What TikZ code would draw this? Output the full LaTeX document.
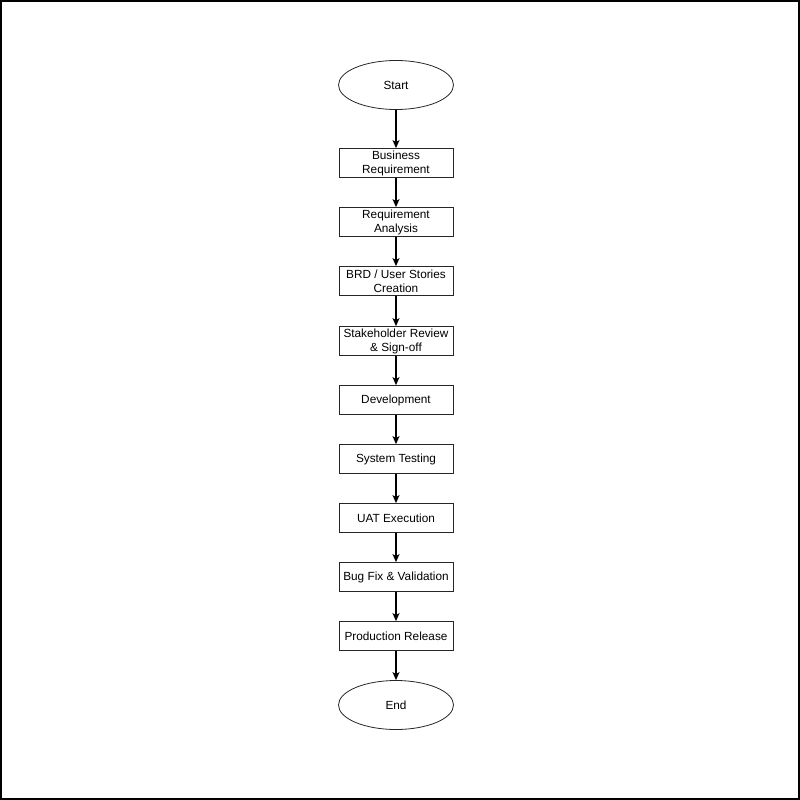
\documentclass[tikz,border=0pt]{standalone}
\usepackage{fontspec}
\setmainfont{Liberation Sans}
\usetikzlibrary{arrows.meta,shapes.geometric,positioning}

\begin{document}
\begin{tikzpicture}[x = 1pt, y = -1pt, every node/.style={font=\fontsize{11.8}{14}\selectfont},
  stepbox/.style={align=center,rectangle,draw=black!85,line width=.8pt,minimum width=114pt,minimum height=29pt,inner sep=1pt},
  termbox/.style={align=center,ellipse,draw=black!85,line width=.8pt,minimum width=115pt,minimum height=49pt},
  flow/.style={-{Stealth[length=8pt,width=7pt,inset=2pt]}, line width=1.2pt}]
\useasboundingbox (0,0) rectangle (800,800);
\draw[line width=1.6pt] (0.8,0.8) rectangle (799.2,799.2);
\node[termbox] (start) at (396,85) {Start};
\node[stepbox] (business) at (396,163) {Business\\Requirement};
\node[stepbox] (analysis) at (396,222) {Requirement\\Analysis};
\node[stepbox] (brd) at (396,281) {BRD / User Stories\\Creation};
\node[stepbox] (signoff) at (396,341) {Stakeholder Review\\\& Sign-off};
\node[stepbox] (dev) at (396,400) {Development};
\node[stepbox] (testing) at (396,459) {System Testing};
\node[stepbox] (uat) at (396,518) {UAT Execution};
\node[stepbox] (bugfix) at (396,577) {Bug Fix \& Validation};
\node[stepbox] (release) at (396,636) {Production Release};
\node[termbox] (end) at (396,705) {End};
\draw[flow] (start) -- (business);
\draw[flow] (business) -- (analysis);
\draw[flow] (analysis) -- (brd);
\draw[flow] (brd) -- (signoff);
\draw[flow] (signoff) -- (dev);
\draw[flow] (dev) -- (testing);
\draw[flow] (testing) -- (uat);
\draw[flow] (uat) -- (bugfix);
\draw[flow] (bugfix) -- (release);
\draw[flow] (release) -- (end);
\end{tikzpicture}
\end{document}
